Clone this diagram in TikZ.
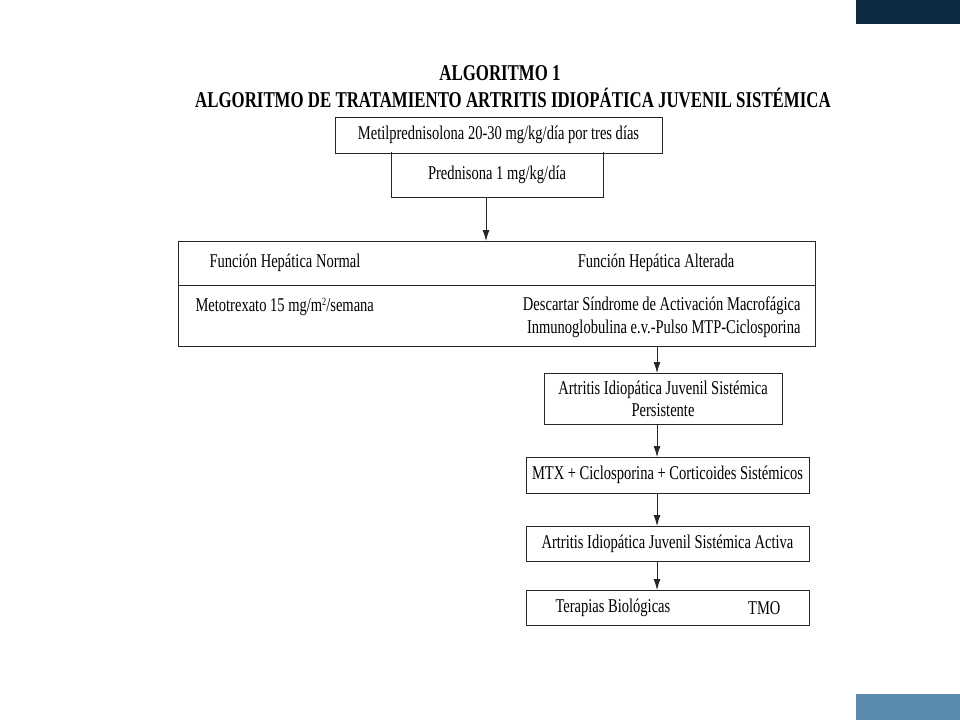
\documentclass[tikz,border=0pt]{standalone}
\usepackage{fontspec}
\setmainfont[FakeStretch=0.745]{Liberation Serif}
\usetikzlibrary{arrows.meta}
\usetikzlibrary{positioning}
\definecolor{barradark}{HTML}{0C2B40}
\definecolor{barralight}{HTML}{5A8BAE}
\tikzset{
  box/.style = {
    draw = black!85, line width = 0.8pt,
    inner sep = 0, outer sep = 0,
  },
  flow/.style = {
    draw = black!85, line width = 0.8pt,
    -{Latex[length=11pt, width=7pt]},
  },
  every node/.style = {
    font = \fontsize{19.5}{22}\selectfont,
  },
}
\begin{document}
\begin{tikzpicture}[x=1pt, y=-1pt]
  \useasboundingbox (0,0) rectangle (960,720);
  % corner bars of the slide
  \fill[barradark] (856,0) rectangle (960,24);
  \fill[barralight] (856,694) rectangle (960,720);
  % Title
  \node[font = \bfseries\fontsize{22.6}{24}\selectfont] (titulo) at (500,73) {ALGORITMO 1};
  \node[font = \bfseries\fontsize{22.6}{24}\selectfont] (subtitulo) at (513,98)
    {ALGORITMO DE TRATAMIENTO ARTRITIS IDIOPÁTICA JUVENIL SISTÉMICA};
  % Initial treatment
  \node[box, anchor = north west, minimum width = 327pt, minimum height = 36pt]
    (metil) at (335,117) {Metilprednisolona 20-30 mg/kg/día por tres días};
  \node[inner sep = 0, outer sep = 0, anchor = north west,
        minimum width = 212pt, minimum height = 45pt]
    (pred) at (391,152) {Prednisona 1 mg/kg/día};
  \draw[box] (pred.north west) -- (pred.south west) -- (pred.south east) -- (pred.north east);
  % Liver function
  \node[box, anchor = north west, minimum width = 637pt, minimum height = 105pt]
    (funcion) at (178,241) {};
  \coordinate (corte) at (0,285);
  \draw[box] (funcion.west |- corte) -- (funcion.east |- corte);
  \node[anchor = west] (normal) at (206,263) {Función Hepática Normal};
  \node (alterada) at (656,263) {Función Hepática Alterada};
  \node[anchor = west] (metotrexato) at (192,307)
    {Metotrexato 15 mg/m\raisebox{0.35em}{\fontsize{11}{11}\selectfont 2}/semana};
  \node[anchor = east, align = right, font = \fontsize{19.5}{23}\selectfont]
    (descartar) at (804,317)
    {Descartar Síndrome de Activación Macrofágica\\Inmunoglobulina e.v.-Pulso MTP-Ciclosporina};
  % Persistent disease
  \node[box, anchor = north west, minimum width = 238pt, minimum height = 51pt,
        align = center, font = \fontsize{19.5}{22}\selectfont]
    (persistente) at (544,373) {Artritis Idiopática Juvenil Sistémica\\Persistente};
  \node[box, anchor = north west, minimum width = 283pt, minimum height = 36pt]
    (mtx) at (526,457) {MTX + Ciclosporina + Corticoides Sistémicos};
  \node[box, anchor = north west, minimum width = 283pt, minimum height = 35pt]
    (activa) at (526,526) {Artritis Idiopática Juvenil Sistémica Activa};
  \node[box, anchor = north west, minimum width = 283pt, minimum height = 35pt]
    (terapias) at (526,590) {};
  \node[anchor = west] (biologicas) at (552,608) {Terapias Biológicas};
  \node[anchor = east] (tmo) at (784,608) {TMO};
  % Arrows
  \coordinate (eje) at (657,0);
  \draw[flow] ([xshift = -11pt]pred.south) -- ([xshift = -11pt]pred.south |- funcion.north);
  \draw[flow] (funcion.south -| eje) -- (persistente.north -| eje);
  \draw[flow] (persistente.south -| eje) -- (mtx.north -| eje);
  \draw[flow] (mtx.south -| eje) -- (activa.north -| eje);
  \draw[flow] (activa.south -| eje) -- (terapias.north -| eje);
\end{tikzpicture}
\end{document}
